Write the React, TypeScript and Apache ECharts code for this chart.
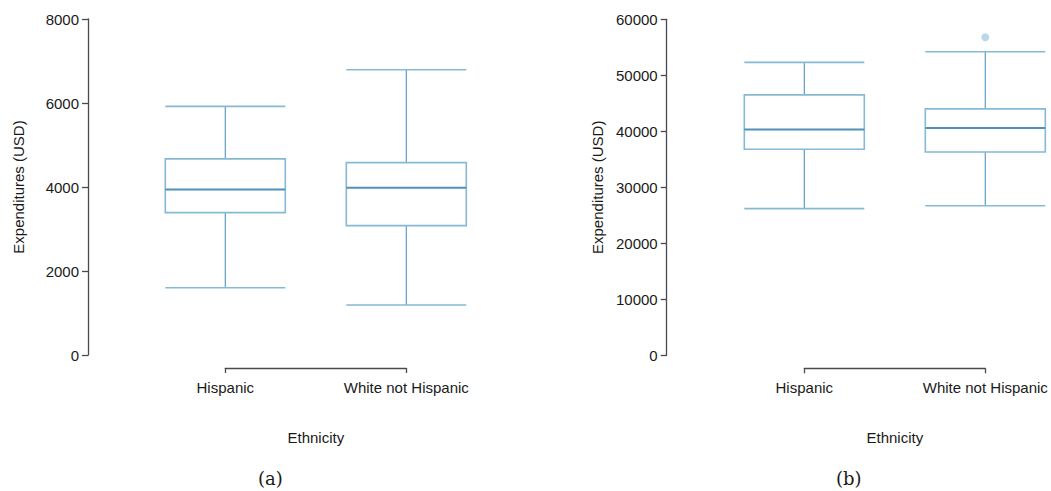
import React, { useEffect, useRef } from "react";
import * as echarts from "echarts";

const categories = ["Hispanic", "White not Hispanic"];
// [min, Q1, median, Q3, max]
const boxA = [
  [1600, 3390, 3940, 4670, 5920],
  [1190, 3080, 3980, 4580, 6790],
];
const boxB = [
  [26200, 36800, 40300, 46500, 52300],
  [26700, 36300, 40600, 44000, 54200],
];
const outliersB: [string, number][] = [["White not Hispanic", 56800]];
const yMaxA = 8000;
const yStepA = 2000;
const yMaxB = 60000;
const yStepB = 10000;
const yTitle = "Expenditures (USD)";
const xTitle = "Ethnicity";
const captions = ["(a)", "(b)"];

const FONT = "Liberation Sans, Arial, Helvetica, sans-serif";
const TEXT = "#1a1a1a";
const AXIS = "#4a4a4a";
const WHISKER = "#5b9ec4";
const BOXLINE = "#86b9d5";
const MEDIAN = "#4f91ba";
const HALF = 60; // half box width in px

function yAxis(gridIndex: number, max: number, step: number, offset: number) {
  return {
    type: "value",
    gridIndex,
    min: 0,
    max,
    interval: step,
    offset,
    name: yTitle,
    nameLocation: "middle",
    nameGap: 62,
    nameRotate: 90,
    nameTextStyle: { fontFamily: FONT, fontSize: 15, color: TEXT },
    axisLine: { show: true, lineStyle: { color: AXIS, width: 1.3 } },
    axisTick: { show: true, length: 6, lineStyle: { color: AXIS, width: 1.3 } },
    axisLabel: {
      fontFamily: FONT,
      fontSize: 15,
      color: TEXT,
      margin: 9,
      formatter: (v: number) => String(v),
    },
    splitLine: { show: false },
  };
}

function xAxis(gridIndex: number) {
  return {
    type: "category",
    gridIndex,
    data: categories,
    boundaryGap: false,
    offset: 13,
    name: xTitle,
    nameLocation: "middle",
    nameGap: 62,
    nameTextStyle: { fontFamily: FONT, fontSize: 15, color: TEXT },
    axisLine: { show: true, onZero: false, lineStyle: { color: AXIS, width: 1.3 } },
    axisTick: { show: true, length: 5, lineStyle: { color: AXIS, width: 1.3 } },
    axisLabel: { fontFamily: FONT, fontSize: 15, color: TEXT, margin: 12 },
    splitLine: { show: false },
  };
}

function renderBox(params: any, api: any) {
  const x = api.value(0);
  const pMin = api.coord([x, api.value(1)]);
  const pQ1 = api.coord([x, api.value(2)]);
  const pMed = api.coord([x, api.value(3)]);
  const pQ3 = api.coord([x, api.value(4)]);
  const pMax = api.coord([x, api.value(5)]);
  const cx = pMed[0];
  const l = cx - HALF;
  const r = cx + HALF;
  const line = (x1: number, y1: number, x2: number, y2: number, stroke: string, w: number) => ({
    type: "line",
    shape: { x1, y1, x2, y2 },
    style: { stroke, lineWidth: w, fill: null },
  });
  return {
    type: "group",
    children: [
      line(cx, pMax[1], cx, pQ3[1], WHISKER, 1.2),
      line(cx, pQ1[1], cx, pMin[1], WHISKER, 1.2),
      line(l, pMax[1], r, pMax[1], BOXLINE, 1.6),
      line(l, pMin[1], r, pMin[1], BOXLINE, 1.6),
      {
        type: "rect",
        shape: { x: l, y: pQ3[1], width: r - l, height: pQ1[1] - pQ3[1] },
        style: { fill: "none", stroke: BOXLINE, lineWidth: 1.6 },
      },
      line(l, pMed[1], r, pMed[1], MEDIAN, 2),
    ],
  };
}

function toRows(box: number[][]) {
  return box.map((b, i) => [i, ...b]);
}

export default function App() {
  const ref = useRef<HTMLDivElement>(null);
  useEffect(() => {
    if (!ref.current) return;
    const chart = echarts.init(ref.current, null, { renderer: "svg" });
    chart.setOption({
      animation: false,
      backgroundColor: "#ffffff",
      grid: [
        { left: 225.3, width: 181, top: 19, height: 336 },
        { left: 804.3, width: 181, top: 19.3, height: 336 },
      ],
      xAxis: [xAxis(0), xAxis(1)],
      yAxis: [yAxis(0, yMaxA, yStepA, 137.3), yAxis(1, yMaxB, yStepB, 137.6)],
      series: [
        {
          type: "custom",
          xAxisIndex: 0,
          yAxisIndex: 0,
          renderItem: renderBox,
          encode: { x: 0, y: [1, 2, 3, 4, 5] },
          clip: false,
          data: toRows(boxA),
        },
        {
          type: "custom",
          xAxisIndex: 1,
          yAxisIndex: 1,
          renderItem: renderBox,
          encode: { x: 0, y: [1, 2, 3, 4, 5] },
          clip: false,
          data: toRows(boxB),
        },
        {
          type: "scatter",
          xAxisIndex: 1,
          yAxisIndex: 1,
          symbol: "circle",
          symbolSize: 8,
          itemStyle: { color: "#a7cde2" },
          data: outliersB,
        },
      ],
      graphic: [
        {
          type: "text",
          left: 258,
          top: 469,
          style: { text: captions[0], font: "18px 'DejaVu Serif', serif", fill: TEXT },
        },
        {
          type: "text",
          left: 836,
          top: 469,
          style: { text: captions[1], font: "18px 'DejaVu Serif', serif", fill: TEXT },
        },
      ],
    });
    return () => chart.dispose();
  }, []);
  return (
    <div
      ref={ref}
      style={{ position: "fixed", left: 0, top: 0, width: 1051, height: 491 }}
    />
  );
}
